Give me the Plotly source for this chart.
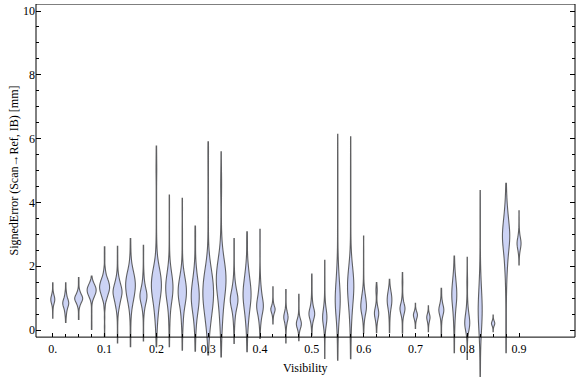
import plotly.graph_objects as go

# ---- data (per violin: error values and how often they occur) ----
visibility = [0.0, 0.025, 0.05, 0.075, 0.1, 0.125, 0.15, 0.175, 0.2, 0.225, 0.25, 0.275,
              0.3, 0.325, 0.35, 0.375, 0.4, 0.425, 0.45, 0.475, 0.5, 0.525, 0.55, 0.575,
              0.6, 0.625, 0.65, 0.675, 0.7, 0.725, 0.75, 0.775, 0.8, 0.825, 0.85, 0.875, 0.9]

error_values = [
    [0.37, 0.5, 0.6, 0.7, 0.8, 0.88, 0.96, 1.04, 1.12, 1.2, 1.3, 1.4, 1.48],
    [0.24, 0.35, 0.45, 0.55, 0.65, 0.75, 0.84, 0.93, 1.02, 1.12, 1.22, 1.35, 1.48],
    [0.33, 0.45, 0.58, 0.7, 0.8, 0.9, 0.99, 1.08, 1.18, 1.28, 1.4, 1.52, 1.65],
    [0.02, 0.2, 0.4, 0.6, 0.8, 0.95, 1.05, 1.15, 1.25, 1.35, 1.45, 1.55, 1.69],
    [-0.2, 0.1, 0.4, 0.7, 0.9, 1.05, 1.2, 1.34, 1.48, 1.62, 1.78, 1.95, 2.2, 2.4, 2.61],
    [-0.4, -0.1, 0.2, 0.45, 0.65, 0.8, 0.95, 1.1, 1.22, 1.35, 1.5, 1.65, 1.85, 2.1, 2.35, 2.63],
    [-0.52, -0.2, 0.1, 0.4, 0.65, 0.85, 1.05, 1.25, 1.45, 1.65, 1.85, 2.05, 2.3, 2.6, 2.87],
    [-0.34, -0.05, 0.25, 0.5, 0.7, 0.9, 1.05, 1.2, 1.38, 1.58, 1.8, 2.1, 2.4, 2.66],
    [-0.52, -0.25, 0.0, 0.25, 0.5, 0.75, 1.0, 1.2, 1.4, 1.6, 1.8, 2.0, 2.25, 2.6, 3.0, 3.5, 4.0, 4.5, 5.0, 5.4, 5.77],
    [-0.52, -0.2, 0.1, 0.4, 0.7, 0.95, 1.15, 1.35, 1.55, 1.75, 1.95, 2.2, 2.5, 2.9, 3.3, 3.8, 4.23],
    [-0.63, -0.3, 0.0, 0.3, 0.6, 0.85, 1.05, 1.25, 1.45, 1.65, 1.85, 2.1, 2.4, 2.8, 3.2, 3.7, 4.13],
    [-0.66, -0.35, -0.05, 0.25, 0.55, 0.8, 1.05, 1.3, 1.55, 1.8, 2.05, 2.35, 2.7, 3.0, 3.26],
    [-0.78, -0.45, -0.15, 0.15, 0.45, 0.75, 1.0, 1.25, 1.5, 1.75, 2.0, 2.3, 2.7, 3.2, 3.8, 4.4, 5.0, 5.5, 5.9],
    [-0.84, -0.5, -0.15, 0.2, 0.55, 0.9, 1.2, 1.45, 1.7, 1.95, 2.2, 2.5, 2.85, 3.3, 3.8, 4.3, 4.6, 5.0, 5.59],
    [-0.42, -0.15, 0.1, 0.35, 0.6, 0.8, 0.95, 1.1, 1.3, 1.5, 1.75, 2.0, 2.3, 2.6, 2.87],
    [-0.68, -0.4, -0.1, 0.2, 0.5, 0.8, 1.05, 1.3, 1.55, 1.8, 2.05, 2.3, 2.6, 2.85, 3.08],
    [-0.26, 0.0, 0.2, 0.4, 0.58, 0.73, 0.88, 1.05, 1.25, 1.45, 1.7, 2.0, 2.4, 2.8, 3.16],
    [0.19, 0.3, 0.4, 0.5, 0.58, 0.65, 0.72, 0.8, 0.9, 1.0, 1.12, 1.24, 1.36],
    [-0.4, -0.25, -0.1, 0.05, 0.18, 0.3, 0.4, 0.5, 0.6, 0.72, 0.85, 1.0, 1.15, 1.27],
    [-0.33, -0.2, -0.08, 0.03, 0.12, 0.2, 0.28, 0.38, 0.5, 0.62, 0.75, 0.9, 1.0, 1.12],
    [-0.16, 0.0, 0.15, 0.28, 0.4, 0.5, 0.6, 0.72, 0.85, 1.0, 1.15, 1.3, 1.45, 1.6, 1.76],
    [-0.89, -0.6, -0.35, -0.12, 0.08, 0.25, 0.4, 0.55, 0.72, 0.9, 1.1, 1.35, 1.6, 1.9, 2.19],
    [-0.94, -0.6, -0.3, 0.0, 0.3, 0.6, 0.85, 1.1, 1.35, 1.6, 1.85, 2.15, 2.5, 3.0, 3.5, 4.0, 4.5, 5.0, 5.5, 6.14],
    [-0.9, -0.6, -0.3, 0.0, 0.3, 0.6, 0.9, 1.15, 1.4, 1.65, 1.9, 2.15, 2.45, 2.9, 3.4, 3.9, 4.4, 4.9, 5.4, 6.06],
    [-0.1, 0.1, 0.3, 0.48, 0.62, 0.75, 0.9, 1.05, 1.2, 1.38, 1.6, 1.85, 2.15, 2.5, 2.95],
    [-0.08, 0.05, 0.18, 0.3, 0.42, 0.52, 0.62, 0.72, 0.85, 1.0, 1.15, 1.25, 1.35, 1.49],
    [-0.08, 0.1, 0.25, 0.4, 0.55, 0.7, 0.82, 0.94, 1.06, 1.18, 1.3, 1.45, 1.59],
    [-0.1, 0.05, 0.2, 0.35, 0.48, 0.6, 0.7, 0.8, 0.92, 1.05, 1.2, 1.35, 1.5, 1.65, 1.8],
    [0.05, 0.15, 0.25, 0.33, 0.41, 0.48, 0.55, 0.63, 0.72, 0.84],
    [-0.05, 0.06, 0.16, 0.25, 0.33, 0.4, 0.47, 0.55, 0.65, 0.76],
    [-0.21, -0.05, 0.1, 0.25, 0.4, 0.52, 0.63, 0.74, 0.86, 0.98, 1.1, 1.2, 1.31],
    [-0.71, -0.45, -0.2, 0.05, 0.3, 0.55, 0.8, 1.0, 1.2, 1.4, 1.6, 1.8, 2.0, 2.15, 2.32],
    [-0.92, -0.7, -0.45, -0.2, -0.02, 0.12, 0.25, 0.4, 0.55, 0.72, 0.9, 1.1, 1.3, 1.5, 1.7, 1.95, 2.28],
    [-1.46, -1.1, -0.75, -0.4, -0.1, 0.2, 0.45, 0.7, 0.95, 1.2, 1.5, 1.85, 2.3, 2.8, 3.3, 3.8, 4.37],
    [-0.05, 0.03, 0.1, 0.16, 0.21, 0.26, 0.32, 0.39, 0.47],
    [-0.71, -0.3, 0.1, 0.5, 0.9, 1.3, 1.7, 2.05, 2.4, 2.7, 2.95, 3.2, 3.5, 3.8, 4.1, 4.35, 4.6],
    [2.04, 2.2, 2.35, 2.48, 2.6, 2.72, 2.84, 2.97, 3.12, 3.3, 3.5, 3.74],
]

error_counts = [
    [1, 1, 1, 2, 4, 7, 9, 7, 4, 2, 1, 1, 1],
    [1, 1, 2, 3, 5, 8, 10, 8, 5, 3, 2, 1, 1],
    [1, 1, 1, 2, 5, 9, 12, 9, 5, 2, 1, 1, 1],
    [1, 1, 1, 1, 1, 3, 6, 10, 12, 10, 6, 2, 1],
    [1, 1, 1, 2, 4, 8, 12, 14, 12, 8, 4, 2, 1, 1, 1],
    [1, 1, 1, 2, 4, 6, 9, 11, 12, 10, 7, 4, 2, 1, 1, 1],
    [1, 1, 1, 2, 3, 6, 9, 12, 13, 11, 7, 3, 2, 1, 1],
    [1, 1, 1, 2, 5, 9, 12, 10, 6, 3, 2, 1, 1, 1],
    [1, 1, 2, 3, 5, 7, 9, 11, 12, 11, 9, 6, 3, 2, 1, 1, 1, 1, 2, 1, 1],
    [1, 1, 2, 3, 5, 8, 11, 12, 10, 7, 4, 2, 1, 1, 1, 1, 1],
    [1, 1, 2, 4, 6, 9, 11, 12, 10, 7, 4, 2, 1, 1, 1, 1, 1],
    [1, 1, 2, 4, 7, 10, 12, 10, 7, 4, 2, 1, 1, 1, 1],
    [1, 1, 3, 5, 8, 10, 11, 11, 10, 8, 5, 3, 1, 1, 1, 1, 1, 1, 1],
    [1, 1, 2, 4, 6, 8, 10, 12, 12, 10, 7, 4, 2, 1, 1, 1, 2, 1, 1],
    [1, 1, 2, 4, 7, 10, 12, 10, 7, 4, 2, 1, 1, 1, 1],
    [1, 1, 2, 4, 7, 10, 12, 11, 8, 5, 3, 1, 1, 1, 1],
    [1, 1, 3, 5, 8, 11, 9, 7, 5, 3, 2, 1, 1, 1, 1],
    [1, 1, 2, 4, 7, 9, 7, 4, 2, 1, 1, 1, 1],
    [1, 1, 1, 2, 4, 7, 9, 7, 4, 2, 1, 1, 1, 1],
    [1, 1, 2, 5, 8, 10, 8, 5, 2, 1, 1, 1, 1, 1],
    [1, 1, 2, 4, 7, 10, 8, 5, 3, 2, 1, 1, 1, 1, 1],
    [1, 1, 1, 2, 4, 7, 9, 7, 4, 2, 1, 1, 1, 1, 1],
    [1, 1, 1, 2, 4, 7, 9, 8, 6, 4, 3, 2, 1, 1, 1, 1, 1, 1, 1, 1],
    [1, 1, 1, 2, 3, 5, 7, 9, 10, 9, 6, 3, 2, 1, 1, 1, 1, 1, 1, 1],
    [1, 1, 3, 5, 8, 10, 8, 6, 4, 2, 1, 1, 1, 1, 1],
    [1, 1, 2, 4, 7, 9, 7, 4, 2, 1, 2, 3, 2, 1],
    [1, 1, 1, 2, 3, 5, 7, 8, 7, 5, 3, 1, 1],
    [1, 1, 1, 2, 5, 8, 9, 6, 3, 2, 1, 1, 2, 1, 1],
    [1, 1, 2, 4, 7, 8, 6, 3, 1, 1],
    [1, 1, 2, 4, 6, 8, 6, 3, 1, 1],
    [1, 1, 1, 2, 4, 7, 9, 7, 4, 2, 1, 1, 1],
    [1, 1, 1, 2, 3, 5, 7, 9, 9, 7, 5, 3, 1, 1, 1],
    [1, 1, 1, 2, 5, 8, 9, 7, 5, 3, 2, 1, 1, 2, 1, 1, 1],
    [1, 1, 1, 2, 3, 5, 6, 6, 5, 4, 3, 2, 1, 1, 1, 1, 1],
    [1, 1, 3, 6, 8, 6, 3, 1, 1],
    [1, 1, 1, 1, 1, 2, 3, 5, 7, 9, 10, 9, 7, 4, 2, 1, 1],
    [1, 1, 2, 4, 7, 9, 7, 4, 2, 1, 1, 1],
]

x_tickvals = [0.0, 0.1, 0.2, 0.3, 0.4, 0.5, 0.6, 0.7, 0.8, 0.9]
x_ticktext = ["0.", "0.1", "0.2", "0.3", "0.4", "0.5", "0.6", "0.7", "0.8", "0.9"]
y_tickvals = [0, 2, 4, 6, 8, 10]
y_ticktext = ["0", "2", "4", "6", "8", "10"]
y_minorvals = [0.5, 1, 1.5, 2.5, 3, 3.5, 4.5, 5, 5.5, 6.5, 7, 7.5, 8.5, 9, 9.5]

# ---- style: violin widths in pixels, measured on the reference ----
violin_px = [5, 7, 9, 10, 11, 10, 10.7, 8, 11, 8.3, 9.3, 9, 11.7, 10.7, 8.7, 9, 7.7, 5.3, 5.3, 6,
             6.7, 5.3, 6, 7.3, 6.7, 5.3, 5.7, 6, 5, 4.3, 6, 6, 6, 5, 4.3, 8.3, 5]

W, H = 576, 377
ML, MR, MT, MB = 36, 1, 4, 0
XR = [-0.0324, 1.008]
YR = [-1.47, 10.22]
FRAME_BOTTOM = -0.22
px_per_x = (W - ML - MR) / (XR[1] - XR[0])

FONT = "Liberation Serif"

fig = go.Figure()
for pos, vals, cnts, wpx in zip(visibility, error_values, error_counts, violin_px):
    samples = [v for v, c in zip(vals, cnts) for _ in range(c)]
    fig.add_trace(go.Violin(
        x0=pos, y=samples, width=max(wpx - 1.0, 2.0) / px_per_x,
        spanmode="hard", points=False, side="both",
        fillcolor="rgb(204,211,245)",
        line=dict(color="rgba(70,70,70,0.85)", width=1.1),
        showlegend=False, hoverinfo="skip",
    ))

xpos = (FRAME_BOTTOM - YR[0]) / (YR[1] - YR[0])

fig.update_layout(
    width=W, height=H,
    margin=dict(l=ML, r=MR, t=MT, b=MB, autoexpand=False),
    paper_bgcolor="white", plot_bgcolor="white",
    violinmode="overlay",
    font=dict(family=FONT, size=12, color="black"),
    xaxis=dict(
        range=XR, showgrid=False, zeroline=False, showline=False, automargin=False,
        anchor="free", position=xpos,
        tickmode="array", tickvals=x_tickvals, ticktext=x_ticktext,
        ticks="inside", ticklen=4, tickcolor="black", tickwidth=1,
        mirror="ticks", ticklabelstandoff=3,
        minor=dict(tickmode="array", tickvals=visibility, ticks="inside",
                   ticklen=3, tickcolor="black", tickwidth=1, showgrid=False),
        tickfont=dict(family=FONT, size=12, color="black"),
    ),
    yaxis=dict(
        range=YR, showgrid=False, zeroline=False, showline=False, automargin=False,
        tickmode="array", tickvals=y_tickvals, ticktext=y_ticktext,
        ticks="inside", ticklen=5, tickcolor="black", tickwidth=1,
        mirror="ticks",
        minor=dict(tickmode="array", tickvals=y_minorvals, ticks="inside",
                   ticklen=3, tickcolor="black", tickwidth=1, showgrid=False),
        tickfont=dict(family=FONT, size=12, color="black"),
    ),
    shapes=[dict(type="rect", xref="paper", yref="y", x0=0, x1=1,
                 y0=FRAME_BOTTOM, y1=YR[1], line=dict(color="black", width=1),
                 fillcolor="rgba(0,0,0,0)", layer="above")],
    annotations=[
        dict(text="SignedError (Scan\u2192Ref, IB) [mm]", xref="paper", yref="y",
             x=-0.041, y=(FRAME_BOTTOM + YR[1]) / 2, textangle=-90, showarrow=False,
             xanchor="center", yanchor="middle", font=dict(family=FONT, size=12, color="black")),
        dict(text="Visibility", xref="paper", yref="y", x=0.5, y=-1.19, showarrow=False,
             xanchor="center", yanchor="middle", font=dict(family=FONT, size=12, color="black")),
    ],
)

fig.write_html("out.html", config={"displayModeBar": False},
               post_script="document.body.style.margin='0';document.body.style.overflow='hidden';")
